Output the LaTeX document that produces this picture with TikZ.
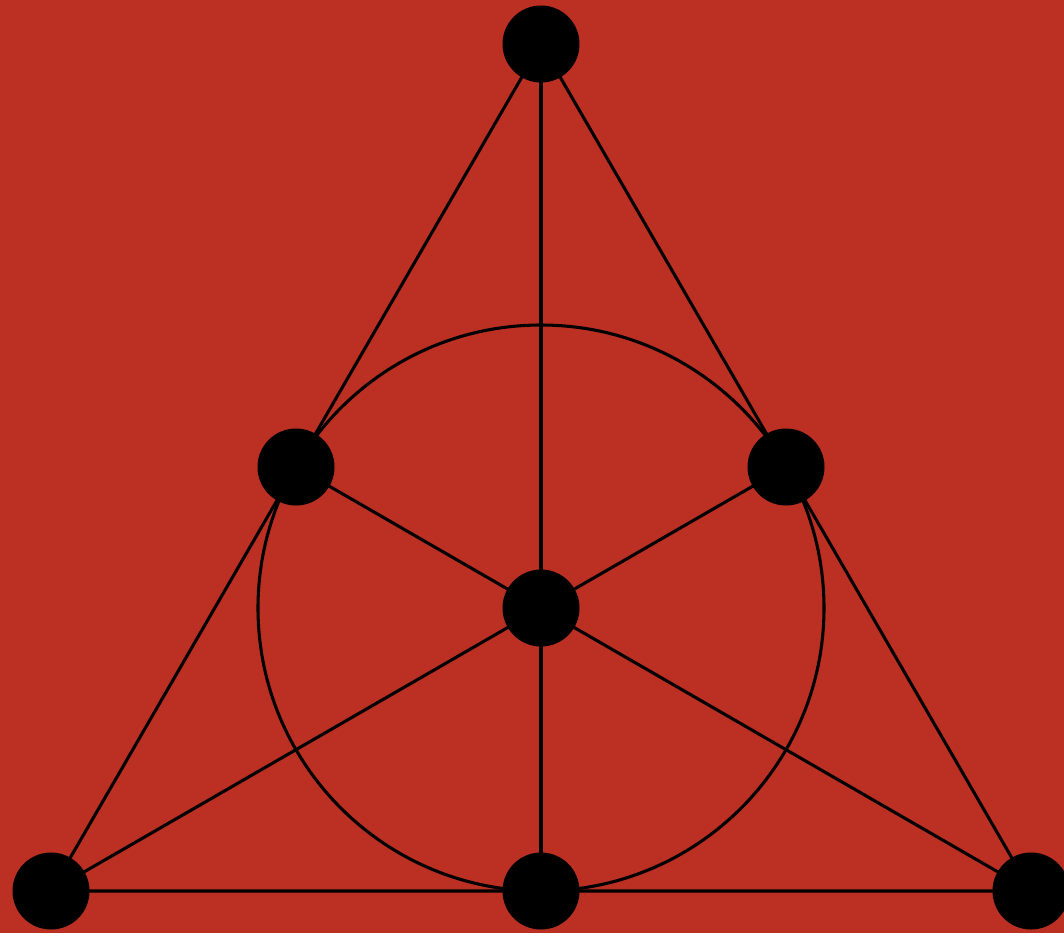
\documentclass[tikz,border=0pt]{standalone}
\definecolor{bgred}{RGB}{188,47,35}
\tikzset{
  vtx/.style={circle, fill=black, inner sep=0pt, minimum size=57.75pt},
  edge/.style={draw=black, line width=2.3pt}
}
\begin{document}
\begin{tikzpicture}[x=0.75pt,y=-0.75pt]
\useasboundingbox (0,0) rectangle (1064,933);
\clip (0,0) rectangle (1064,933);
\fill[bgred] (0,0) rectangle (1064,933);
\coordinate (T) at (541,44);
\coordinate (L) at (51,891);
\coordinate (R) at (1031,891);
\coordinate (ML) at (296,467);
\coordinate (MR) at (786,467);
\coordinate (MB) at (541,891);
\coordinate (C) at (541,608);
\draw[edge] (T) -- (L) -- (R) -- cycle;
\draw[edge] (T) -- (MB);
\draw[edge] (L) -- (MR);
\draw[edge] (R) -- (ML);
\draw[edge] (C) circle[radius=283];
\foreach \p in {T,L,R,ML,MR,MB,C} \node[vtx] (n\p) at (\p) {};
\end{tikzpicture}
\end{document}
